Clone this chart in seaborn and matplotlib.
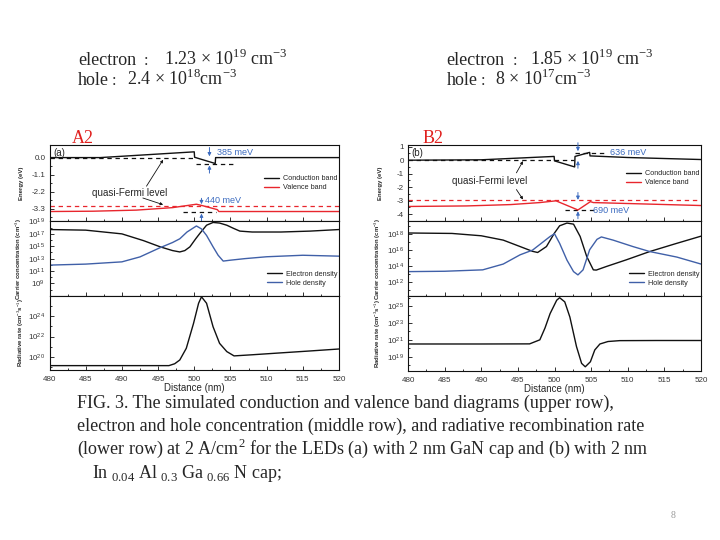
import matplotlib
matplotlib.use("Agg")
import matplotlib.pyplot as plt
import seaborn as sns
from matplotlib.ticker import FixedLocator, MultipleLocator, LogFormatterMathtext, NullFormatter

# ---------------- values ----------------
dist_lim = (480, 520)
dist_ticks = [480, 485, 490, 495, 500, 505, 510, 515, 520]

# panel (a): 2 nm GaN cap -- band diagram (eV)
cb_a_x = [480, 487, 500, 500.05, 502.9, 502.95, 520]
cb_a_y = [0.0, 0.0, 0.37, 0.02, -0.38, 0.0, 0.0]
vb_a_x = [480, 486, 492, 497, 500.3, 501.2, 503.2, 503.4, 520]
vb_a_y = [-3.47, -3.45, -3.38, -3.22, -3.0, -3.1, -3.35, -3.47, -3.47]
fermi_a_x = [480, 500, 500.2, 505.5, 498.5, 503]
fermi_a_y = [-0.02, -0.02, -0.42, -0.42, -3.52, -3.52]
fermi_a_seg = [0, 0, 1, 1, 2, 2]
fermi_p_a_x = [480, 520]
fermi_p_a_y = [-3.1, -3.1]

# panel (a): carrier concentration (cm^-3)
ne_a_x = [480, 485, 490, 493, 495.3, 497, 498, 498.7, 499.4, 500.2, 500.8, 501.7,
          502.6, 503.5, 504.5, 505.4, 506.3, 508, 512, 516, 520]
ne_a_y = [5e17, 4e17, 1e17, 8e15, 8e14, 2e14, 1.2e14, 2e14, 8e14, 1.6e16, 1.3e17, 2.5e18,
          7e18, 5.6e18, 2.5e18, 8e17, 2.8e17, 2e17, 2e17, 2.8e17, 5e17]
nh_a_x = [480, 485, 490, 492.5, 495.3, 497, 498, 499, 500.3, 501, 501.7, 502.6,
          503.3, 504, 505, 507, 510, 515, 520]
nh_a_y = [9e11, 1.3e12, 3e12, 1.9e13, 6e14, 4e15, 1.6e16, 2e17, 1.9e18, 6.3e17, 5.6e16, 8e14,
          3.5e13, 4e12, 5.6e12, 1e13, 2e13, 3.5e13, 2.5e13]

# panel (a): radiative rate (cm^-3 s^-1)
rr_a_x = [480, 490, 496.5, 497.3, 498, 498.9, 499.9, 500.6, 501, 501.7, 502.6, 503.5,
          504.5, 505.5, 508, 512, 516, 520]
rr_a_y = [1.3e19, 1.3e19, 1.3e19, 2e19, 4.7e19, 6.8e20, 2e23, 2e25, 8.7e25, 2e25, 9.3e22, 2.1e21,
          3.2e20, 1.2e20, 1.55e20, 2.4e20, 3.7e20, 5.8e20]

# panel (b): 2 nm In0.04Al0.3Ga0.66N cap -- band diagram (eV)
cb_b_x = [480, 490, 499.95, 500.0, 502.75, 502.8, 504.8, 504.85, 510, 520]
cb_b_y = [0.0, 0.03, 0.28, -0.05, -0.5, 0.28, 0.58, 0.32, 0.2, 0.05]
vb_b_x = [480, 488, 494, 498, 500.2, 503.2, 504.9, 505.3, 510, 520]
vb_b_y = [-3.44, -3.4, -3.3, -3.15, -3.02, -3.7, -3.08, -3.15, -3.22, -3.37]
fermi_b_x = [480, 502.7, 502.8, 507, 501.5, 505.5]
fermi_b_y = [0.0, 0.0, 0.56, 0.56, -3.68, -3.68]
fermi_b_seg = [0, 0, 1, 1, 2, 2]
fermi_p_b_x = [480, 520]
fermi_p_b_y = [-2.97, -2.97]

# panel (b): carrier concentration (cm^-3)
ne_b_x = [480, 486, 490, 493, 495.3, 497, 497.7, 498.9, 500.0, 500.7, 501.7, 502.6,
          503.5, 504.4, 505.3, 505.7, 507.1, 509.8, 513, 516.5, 520]
ne_b_y = [1.25e18, 1.1e18, 5.6e17, 1.6e17, 2.5e16, 6.3e15, 4.5e15, 2.5e16, 1.25e18, 1e19, 2.2e19, 1.6e19,
          4.6e17, 1.4e15, 3e13, 2.8e13, 8e13, 5.4e14, 5.9e15, 5.6e16, 5e17]
nh_b_x = [480, 485, 490.2, 493, 495.3, 497, 497.7, 499.4, 500.0, 500.7, 501.7, 502.6,
          503.2, 503.9, 504.8, 505.8, 506.4, 508, 510.7, 513, 516.7, 520]
nh_b_y = [1.8e13, 2e13, 3e13, 1.6e14, 2.3e15, 8.9e15, 2.8e16, 4.6e17, 1e18, 6.3e16, 5e14, 1.8e13,
          7e12, 3e13, 1e16, 2e17, 4e17, 1.6e17, 2.5e16, 5.9e15, 1.2e15, 1.6e14]

# panel (b): radiative rate (cm^-3 s^-1)
rr_b_x = [480, 490, 496.6, 498, 498.7, 499.4, 500.3, 500.7, 501.4, 502.1, 503.0, 503.7,
          504.2, 504.9, 505.5, 506.2, 507.3, 508.9, 514, 520]
rr_b_y = [3.2e20, 3.2e20, 3.3e20, 1e21, 2.5e22, 1.3e24, 5e25, 1e26, 3.2e25, 5e23, 1.6e20, 1.6e18,
          6.3e17, 2.5e18, 6.3e19, 3.2e20, 6.3e20, 8e20, 8.3e20, 8.3e20]

BLACK = "#111111"
RED = "#e8262d"
BLUE = "#4060a8"
NOTE_BLUE = "#3d6cc0"
DASH = (0, (3.5, 3))

sns.set_style("ticks")
plt.rcParams["font.family"] = ["Liberation Sans", "DejaVu Sans"]
plt.rcParams["axes.linewidth"] = 0.8
plt.rcParams["axes.unicode_minus"] = False
plt.rcParams["mathtext.fontset"] = "custom"
plt.rcParams["mathtext.rm"] = "Liberation Sans"

fig = plt.figure(figsize=(7.2, 5.4), dpi=100)


def box(l, t, r, b):
    # axes from pixel edges of the 720x540 slide
    return fig.add_axes([l / 720, 1 - b / 540, (r - l) / 720, (b - t) / 540])


def line(ax, x, y, color, ls="-", label=None, units=None, lw=1.0):
    kw = {} if label is None else {"label": label}
    sns.lineplot(x=x, y=y, units=units, estimator=None, sort=False, ax=ax,
                 color=color, linestyle=ls, linewidth=lw, legend=False, **kw)


def style(ax, bottom_labels=False):
    ax.set_xlim(*dist_lim)
    ax.xaxis.set_major_locator(FixedLocator(dist_ticks))
    ax.xaxis.set_minor_locator(MultipleLocator(2.5))
    ax.tick_params(which="both", direction="in", width=0.6, labelsize=5.8,
                   colors=BLACK, labelcolor="#333333")
    ax.tick_params(axis="x", pad=4)
    ax.tick_params(axis="y", pad=3)
    ax.tick_params(which="major", length=3)
    ax.tick_params(which="minor", length=1.6)
    ax.tick_params(axis="x", labelbottom=bottom_labels)
    ax.set_xlabel("")
    ax.set_ylabel("")
    for s in ax.spines.values():
        s.set_visible(True)
        s.set_color(BLACK)


def log_axis(ax, lo, hi, majors, minors):
    ax.set_yscale("log")
    ax.set_ylim(10.0 ** lo, 10.0 ** hi)
    ax.yaxis.set_major_locator(FixedLocator([10.0 ** e for e in majors]))
    ax.yaxis.set_minor_locator(FixedLocator([10.0 ** e for e in minors]))
    ax.yaxis.set_major_formatter(LogFormatterMathtext())
    ax.yaxis.set_minor_formatter(NullFormatter())


def ylab(ax, text, xpos):
    ax.set_ylabel(text, fontsize=4.3, fontweight="bold")
    ax.yaxis.set_label_coords(xpos, 0.5)


def arrow(ax, tail, tip, color=NOTE_BLUE, lw=0.7, ms=5):
    ax.annotate("", xy=tip, xytext=tail, annotation_clip=False,
                arrowprops=dict(arrowstyle="-|>", color=color, lw=lw,
                                shrinkA=0, shrinkB=0, mutation_scale=ms))


def legend(ax, y):
    ax.legend(loc="center right", bbox_to_anchor=(1.0, y), frameon=False, fontsize=5.2,
              handlelength=2.2, handletextpad=0.5, labelspacing=0.25,
              borderaxespad=0.0, borderpad=0.2)


panels = {
    "a": dict(left=49.5, right=339, rows=[(145, 221), (221, 296), (296, 370)],
              cb=(cb_a_x, cb_a_y), vb=(vb_a_x, vb_a_y),
              fermi=(fermi_a_x, fermi_a_y, fermi_a_seg), fermi_p=(fermi_p_a_x, fermi_p_a_y),
              ne=(ne_a_x, ne_a_y), nh=(nh_a_x, nh_a_y), rr=(rr_a_x, rr_a_y)),
    "b": dict(left=408, right=701, rows=[(145, 221), (221, 296), (296, 371)],
              cb=(cb_b_x, cb_b_y), vb=(vb_b_x, vb_b_y),
              fermi=(fermi_b_x, fermi_b_y, fermi_b_seg), fermi_p=(fermi_p_b_x, fermi_p_b_y),
              ne=(ne_b_x, ne_b_y), nh=(nh_b_x, nh_b_y), rr=(rr_b_x, rr_b_y)),
}

for key, p in panels.items():
    ax_e = box(p["left"], p["rows"][0][0], p["right"], p["rows"][0][1])
    ax_n = box(p["left"], p["rows"][1][0], p["right"], p["rows"][1][1])
    ax_r = box(p["left"], p["rows"][2][0], p["right"], p["rows"][2][1])

    # --- band diagram ---
    line(ax_e, *p["fermi_p"], RED, ls=DASH, lw=0.9)
    line(ax_e, p["fermi"][0], p["fermi"][1], BLACK, ls=DASH, lw=0.9, units=p["fermi"][2])
    line(ax_e, *p["cb"], BLACK, label="Conduction band")
    line(ax_e, *p["vb"], RED, label="Valence band")
    style(ax_e)
    ax_e.text(0.012, 0.9, f"({key})", transform=ax_e.transAxes, fontsize=7, va="center")
    legend(ax_e, 0.496 if key == "a" else 0.562)

    # --- carrier concentration ---
    line(ax_n, *p["ne"], BLACK, label="Electron density")
    line(ax_n, *p["nh"], BLUE, label="Hole density")
    style(ax_n)
    legend(ax_n, 0.232)

    # --- radiative rate ---
    line(ax_r, *p["rr"], BLACK)
    style(ax_r, bottom_labels=True)
    ax_r.set_xlabel("Distance (nm)", fontsize=7, labelpad=0.3)

    if key == "a":
        ax_e.set_ylim(-4.08, 0.81)
        ax_e.yaxis.set_major_locator(FixedLocator([0.0, -1.1, -2.2, -3.3]))
        ax_e.yaxis.set_minor_locator(FixedLocator([-0.55, -1.65, -2.75, -3.85]))
        ax_e.yaxis.set_major_formatter(matplotlib.ticker.FormatStrFormatter("%.1f"))
        log_axis(ax_n, 6.96, 19.08, [9, 11, 13, 15, 17, 19], [8, 10, 12, 14, 16, 18])
        log_axis(ax_r, 18.68, 26.02, [20, 22, 24], [19, 21, 23, 25])
        lx = -0.088
        # annotations
        arrow(ax_e, (502.1, 0.65), (502.1, 0.08))
        arrow(ax_e, (502.1, -1.0), (502.1, -0.5))
        ax_e.text(503.1, 0.3, "385 meV", color=NOTE_BLUE, fontsize=6.5, va="center")
        arrow(ax_e, (501.0, -2.62), (501.0, -3.0))
        arrow(ax_e, (501.0, -4.35), (501.0, -3.6))
        ax_e.text(501.5, -2.79, "440 meV", color=NOTE_BLUE, fontsize=6.5, va="center")
        ax_e.text(491.05, -2.3, "quasi-Fermi level", fontsize=7.1, ha="center", va="center")
        arrow(ax_e, (493.4, -1.84), (495.7, -0.14), color=BLACK, lw=0.6, ms=4)
        arrow(ax_e, (492.9, -2.6), (495.7, -3.03), color=BLACK, lw=0.6, ms=4)
    else:
        ax_e.set_ylim(-4.52, 1.13)
        ax_e.yaxis.set_major_locator(FixedLocator([1, 0, -1, -2, -3, -4]))
        ax_e.yaxis.set_minor_locator(MultipleLocator(0.5))
        log_axis(ax_n, 10.2, 19.6, [12, 14, 16, 18], [11, 13, 15, 17, 19])
        log_axis(ax_r, 17.3, 26.2, [19, 21, 23, 25], [18, 20, 22, 24, 26])
        lx = -0.085
        arrow(ax_e, (503.2, 1.3), (503.2, 0.67))
        arrow(ax_e, (503.2, -0.6), (503.2, -0.05))
        ax_e.text(507.6, 0.6, "636 meV", color=NOTE_BLUE, fontsize=6.5, va="center")
        arrow(ax_e, (503.2, -2.4), (503.2, -2.95))
        arrow(ax_e, (503.2, -4.35), (503.2, -3.8))
        ax_e.text(505.3, -3.74, "690 meV", color=NOTE_BLUE, fontsize=6.5, va="center")
        ax_e.text(491.2, -1.56, "quasi-Fermi level", fontsize=7.1, ha="center", va="center")
        arrow(ax_e, (494.8, -0.94), (495.7, -0.07), color=BLACK, lw=0.6, ms=4)
        arrow(ax_e, (494.8, -2.18), (495.7, -2.92), color=BLACK, lw=0.6, ms=4)

    ylab(ax_e, "Energy (eV)", lx)
    ylab(ax_n, "Carrier concentration (cm$^{-3}$)", lx)
    ylab(ax_r, "Radiative rate (cm$^{-3}$s$^{-1}$)", lx + (0.007 if key == "a" else 0))


# ---------------- slide texts ----------------
def px(x, y):
    return x / 720, 1 - y / 540


SERIF = ["Liberation Serif", "DejaVu Serif"]
CJK = ["Noto Sans CJK SC", "DejaVu Sans"]
sup = lambda s: "$^{\\mathdefault{" + s + "}}$"
sub = lambda s: "$_{\\mathdefault{" + s + "}}$"

header = [
    (78, 65, "electron", 149.5, 164, "1.23 × 10" + sup("19") + " cm" + sup("-3")),
    (78, 85, "hole", 117.5, 126.7, "2.4 × 10" + sup("18") + "cm" + sup("-3")),
    (446.7, 65, "electron", 518, 530, "1.85 × 10" + sup("19") + " cm" + sup("-3")),
    (446.7, 85, "hole", 486, 495, "8 × 10" + sup("17") + "cm" + sup("-3")),
]
for x0, yb, word, xc, x1, rest in header:
    fig.text(*px(x0, yb), word, family=SERIF, fontsize=13, va="baseline")
    fig.text(*px(xc, yb), "：", family=CJK, fontsize=9.5, ha="center", va="baseline")
    fig.text(*px(x1, yb), rest, family=SERIF, fontsize=13, va="baseline")

fig.text(*px(72, 143.3), "A2", family=SERIF, fontsize=13, color="#e0201e", va="baseline")
fig.text(*px(423, 143.3), "B2", family=SERIF, fontsize=13, color="#e0201e", va="baseline")

caption = [
    (77, 408, "FIG. 3. The simulated conduction and valence band diagrams (upper row),"),
    (77, 431, "electron and hole concentration (middle row), and radiative recombination rate"),
    (77, 454, "(lower row) at 2 A/cm" + sup("2") + " for the LEDs (a) with 2 nm GaN cap and (b) with 2 nm"),
    (92, 478, "In" + sub("\\ 0.04") + " Al" + sub("\\ 0.3") + " Ga" + sub("\\ 0.66") + " N cap;"),
]
for x0, yb, txt in caption:
    fig.text(*px(x0, yb), txt, family=SERIF, fontsize=13, va="baseline")

fig.text(*px(673, 516), "8", family=SERIF, fontsize=7, color="#999999", ha="center", va="center")

fig.savefig("out.png", dpi=100)
